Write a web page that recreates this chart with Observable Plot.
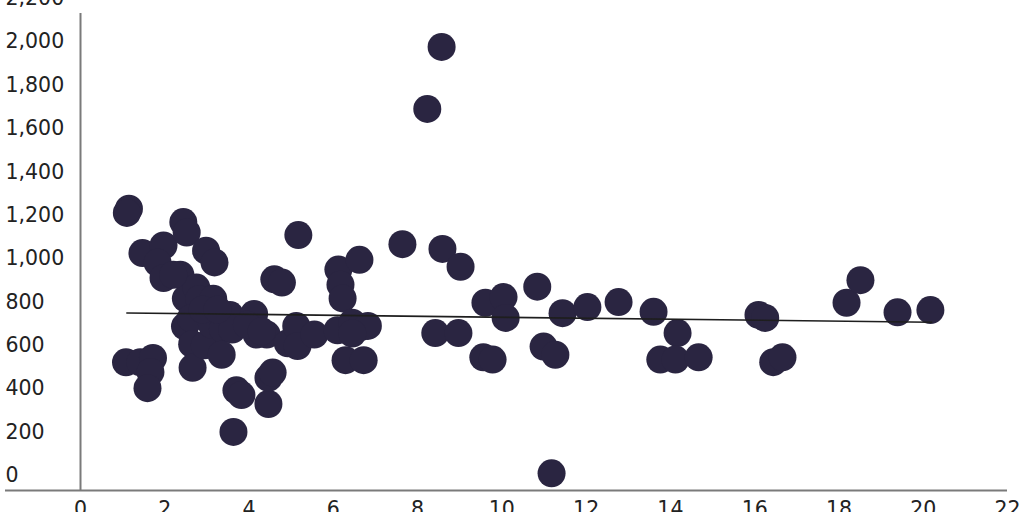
<!DOCTYPE html>
<html>
<head>
<meta charset="utf-8">
<script src="https://cdn.jsdelivr.net/npm/d3@7"></script>
<script src="https://cdn.jsdelivr.net/npm/@observablehq/plot@0.6"></script>
<style>
  html, body { margin: 0; padding: 0; background: #fff; }
  #chart { width: 1024px; height: 512px; overflow: hidden; }
</style>
</head>
<body>
<div id="chart"></div>
<script>
// Scatter values
const xs = [1.15,1.10,1.47,1.97,1.83,1.97,2.44,2.52,2.37,2.98,3.18,2.50,2.75,2.82,2.48,2.62,2.65,2.66,2.95,3.15,3.12,3.38,3.55,3.60,3.35,3.63,3.70,3.82,4.12,4.18,4.42,4.46,4.46,4.56,4.60,4.78,4.92,5.12,5.15,5.17,5.55,1.08,1.42,1.72,1.66,1.59,2.20,2.90,3.25,3.95,4.30,6.12,6.17,6.22,6.62,6.10,6.45,6.65,6.82,6.45,6.29,6.72,7.64,8.23,8.57,8.59,9.02,8.42,8.97,9.61,10.04,10.09,9.56,9.78,10.84,11.44,12.03,12.77,10.99,11.27,11.18,13.60,14.17,13.76,14.12,14.67,16.09,16.25,16.44,16.66,18.18,18.51,19.39,20.17];
const ys = [1300,1280,1095,1130,1050,980,1238,1190,995,1106,1052,885,936,882,757,795,675,566,670,884,764,744,809,742,626,270,462,440,814,719,719,399,519,544,974,959,679,759,666,1178,719,591,591,611,546,472,995,834,834,764,734,1019,949,886,1064,739,774,754,759,724,601,601,1136,1760,2046,1114,1032,726,726,866,892,796,614,604,940,818,846,869,664,626,79,824,726,604,604,614,810,796,592,614,866,970,822,832];
// Trend line end points
const trendX = [1.1, 20.2];
const trendY = [819, 776];
// Axis ticks
const xTicks = [0,2,4,6,8,10,12,14,16,18,20,22];
const yTicks = [0,200,400,600,800,1000,1200,1400,1600,1800,2000,2200];

const pts = xs.map((x, i) => ({x, y: ys[i]}));
const trend = trendX.map((x, i) => ({x, y: trendY[i]}));
const font = "DejaVu Sans, sans-serif";

const chart = Plot.plot({
  width: 1024,
  height: 512,
  marginLeft: 5,
  marginRight: 17,
  marginTop: 13,
  marginBottom: 22,
  style: {background: "#fff", fontFamily: font},
  x: {domain: [0, 22], range: [80, 1007], axis: null},
  y: {domain: [0, 2200], range: [490, 13], axis: null},
  marks: [
    Plot.ruleY([0], {x1: -1.78, x2: 22, stroke: "#7a7a7a", strokeWidth: 2}),
    Plot.ruleX([0], {y1: 0, y2: 2200, stroke: "#7a7a7a", strokeWidth: 2}),
    Plot.dot(pts, {x: "x", y: "y", r: 14, fill: "#2a2541", stroke: "none"}),
    Plot.line(trend, {x: "x", y: "y", stroke: "#1e1e1e", strokeWidth: 1.6}),
    Plot.text(yTicks, {y: d => d, frameAnchor: "left", textAnchor: "start", dy: -15,
      text: d => d3.format(",")(d), fontSize: 20.5, fill: "#222"}),
    Plot.text(xTicks, {x: d => d, frameAnchor: "bottom", lineAnchor: "middle", dy: 19,
      text: d => String(d), fontSize: 20.5, fill: "#222"})
  ]
});
document.getElementById("chart").appendChild(chart);
</script>
</body>
</html>
